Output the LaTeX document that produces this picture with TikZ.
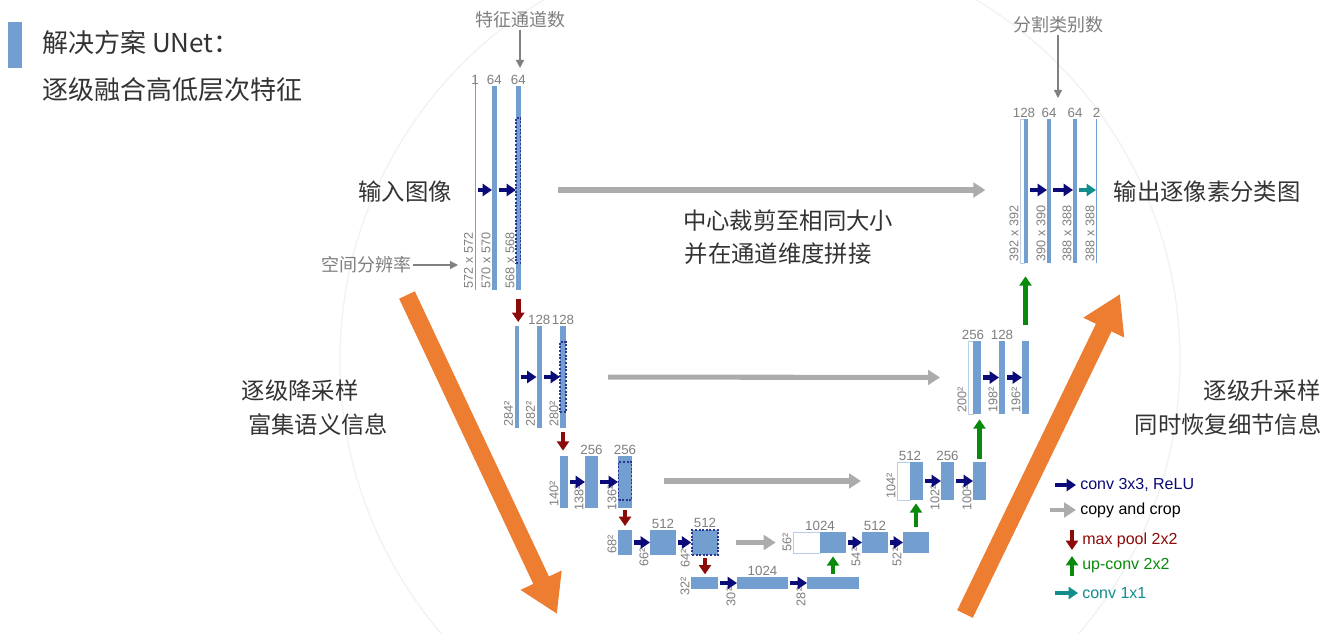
\documentclass[tikz,border=0pt]{standalone}
\usepackage{fontspec}
\setmainfont{Liberation Sans}
\newfontfamily\cjk{Noto Sans CJK SC}
\usetikzlibrary{arrows.meta}
\definecolor{blk}{HTML}{739FD0}
\definecolor{nav}{HTML}{0A0A78}
\definecolor{dred}{HTML}{8B0A0A}
\definecolor{dgrn}{HTML}{0A8A0A}
\definecolor{teal2}{HTML}{138C8C}
\definecolor{org}{HTML}{ED7D31}
\definecolor{txt}{HTML}{333333}
\definecolor{num}{HTML}{7F7F7F}
\tikzset{
 bl/.style={fill=blk,draw=none,inner sep=0pt,outer sep=0pt},
 wh/.style={fill=white,draw=blk!50,line width=0.6pt,inner sep=0pt,outer sep=0pt},
 dot/.style={draw=nav!70!blk,dashed,dash pattern=on 1.5pt off 1.2pt,line width=1.1pt,fill=blk,inner sep=0pt},
 conv/.style={nav,line width=3.6pt,-{Triangle[length=7pt,width=9pt]},shorten <=1.5pt},
 convt/.style={teal2,line width=3.6pt,-{Triangle[length=7pt,width=9pt]},shorten <=1.5pt},
 pool/.style={dred,line width=3.6pt,-{Triangle[length=7pt,width=9pt]}},
 upc/.style={dgrn,line width=3.6pt,-{Triangle[length=7pt,width=9pt]}},
 copy/.style={gray!65,line width=3.8pt,-{Triangle[length=9pt,width=11pt]}},
 garr/.style={gray,line width=1pt,-{Triangle[length=6pt,width=6pt]}},
 nb/.style={num,font=\fontsize{10}{10}\selectfont,inner sep=1pt,anchor=south},
 dm/.style={num,font=\fontsize{9.5}{10}\selectfont,inner sep=1pt,rotate=90,anchor=south west},
 zh/.style={txt,font=\cjk\fontsize{17.5}{19}\selectfont,inner sep=0pt},
 sm/.style={num,font=\cjk\fontsize{13.5}{14}\selectfont,inner sep=1pt},
 lg/.style={font=\fontsize{12}{13}\selectfont,anchor=west,inner sep=0pt},
 oarr/.style={org,line width=13pt,-{Triangle[length=28pt,width=32pt]}},
}
\newcommand\blk[6]{\node[#6,minimum width={(#4-#2)*0.75pt},minimum height={(#5-#3)*0.75pt}] (#1) at ({(#2+#4)/2},{(#3+#5)/2}) {};}
\begin{document}
\begin{tikzpicture}[x=0.75pt,y=-0.75pt]
\path[use as bounding box,fill=white] (0,0) rectangle (1337,634);
\draw[gray!10,line width=1pt] (760,360) circle (420);
% title
\fill[blk] (8,22) rectangle (22,68);
\node[zh,anchor=west,font=\cjk\fontsize{19.5}{21}\selectfont] (t1) at (42,43) {解决方案 UNet：};
\node[zh,anchor=west,font=\cjk\fontsize{19.5}{21}\selectfont] (t2) at (42,90) {逐级融合高低层次特征};
% level 1
\blk{a1}{474.5}{75}{475.8}{290}{bl}
\blk{a2}{492}{86}{496.5}{290}{bl}
\blk{a3}{516}{86}{520.5}{290}{bl}
\blk{a3d}{516}{118}{520.5}{263}{dot}
\node[nb] at (a1.north|-a2.north) {1};
\node[nb] at (a2.north) {64};
\node[nb] at (a3.north) {64};
\node[dm] at (a1.south west) {572 x 572};
\node[dm] at (a2.south west) {570 x 570};
\node[dm] at (a3.south west) {568 x 568};
\draw[conv] (a1.east|-0,190) -- (a2.west|-0,190);
\draw[conv] (a2.east|-0,190) -- (a3.west|-0,190);
% level 2
\blk{b1}{514.5}{326}{518.5}{428}{bl}
\blk{b2}{536.5}{326}{542}{428}{bl}
\blk{b3}{560}{326}{566}{428}{bl}
\blk{b3d}{560}{342}{566}{412}{dot}
\node[nb] at (b2.north) {128};
\node[nb] at (b3.north) {128};
\node[dm] at (b1.south west) {284²};
\node[dm] at (b2.south west) {282²};
\node[dm] at (b3.south west) {280²};
\draw[conv] (b1.east) -- (b2.west);
\draw[conv] (b2.east) -- (b3.west);
% level 3
\blk{c1}{560}{456}{568}{508}{bl}
\blk{c2}{585}{456}{598}{508}{bl}
\blk{c3}{618}{456}{632}{508}{bl}
\blk{c3d}{618.5}{462}{631.5}{500}{dot}
\node[nb] at (c2.north) {256};
\node[nb] at (c3.north) {256};
\node[dm] at (c1.south west) {140²};
\node[dm,xshift=-3pt] at (c2.south west) {138²};
\node[dm,xshift=-3pt] at (c3.south west) {136²};
\draw[conv] (c1.east) -- (c2.west);
\draw[conv] (c2.east) -- (c3.west);
% level 4
\blk{d1}{618}{530}{632}{555}{bl}
\blk{d2}{650}{530}{676}{555}{bl}
\blk{d3}{692}{530}{718}{555}{dot}
\node[nb] at (d2.north) {512};
\node[nb] at (d3.north) {512};
\node[dm] at (d1.south west) {68²};
\node[dm,xshift=-10pt] at (d2.south west) {66²};
\node[dm,xshift=-10pt] at (d3.south west) {64²};
\draw[conv] (d1.east) -- (d2.west);
\draw[conv] (d2.east) -- (d3.west);
% level 5
\blk{e1}{691}{577}{718}{589}{bl}
\blk{e2}{737}{577}{788}{589}{bl}
\blk{e3}{807}{577}{859}{589}{bl}
\node[nb] at (e2.north) {1024};
\node[dm,xshift=-6pt] at (e1.south west) {32²};
\node[dm,xshift=-14pt] at (e2.south west) {30²};
\node[dm,xshift=-14pt] at (e3.south west) {28²};
\draw[conv] (e1.east) -- (e2.west);
\draw[conv] (e2.east) -- (e3.west);
% up level 4
\blk{f0}{793}{532}{820}{553}{wh}
\blk{f1}{820}{532}{846}{553}{bl}
\blk{f2}{862}{532}{888}{553}{bl}
\blk{f3}{903}{532}{929}{553}{bl}
\node[nb] at (f0.north east) {1024};
\node[nb] at (f2.north) {512};
\node[dm] at (f0.south west) {56²};
\node[dm,xshift=-11pt] at (f2.south west) {54²};
\node[dm,xshift=-11pt] at (f3.south west) {52²};
\draw[conv] (f1.east) -- (f2.west);
\draw[conv] (f2.east) -- (f3.west);
% up level 3
\blk{g0}{897}{462}{910}{500}{wh}
\blk{g1}{910}{462}{923}{500}{bl}
\blk{g2}{941}{462}{954}{500}{bl}
\blk{g3}{973}{462}{986}{500}{bl}
\node[nb] at (g0.north east) {512};
\node[nb] at (g2.north) {256};
\node[dm] at (g0.south west) {104²};
\node[dm,xshift=-9pt] at (g2.south west) {102²};
\node[dm,xshift=-9pt] at (g3.south west) {100²};
\draw[conv] (g1.east) -- (g2.west);
\draw[conv] (g2.east) -- (g3.west);
% up level 2
\blk{h0}{968}{341}{973}{414}{wh}
\blk{h1}{973}{341}{981}{414}{bl}
\blk{h2}{999}{341}{1005}{414}{bl}
\blk{h3}{1022}{341}{1029}{414}{bl}
\node[nb] at (h0.north east) {256};
\node[nb] at (h2.north) {128};
\node[dm] at (h0.south west) {200²};
\node[dm] at (h2.south west) {198²};
\node[dm] at (h3.south west) {196²};
\draw[conv] (h1.east) -- (h2.west);
\draw[conv] (h2.east) -- (h3.west);
% up level 1
\blk{i0}{1020}{119}{1024}{263}{wh}
\blk{i1}{1024}{119}{1028}{263}{bl}
\blk{i2}{1047}{119}{1051}{263}{bl}
\blk{i3}{1073}{119}{1077}{263}{bl}
\blk{i4}{1096}{119}{1097.3}{263}{bl}
\node[nb] at (i0.north east) {128};
\node[nb] at (i2.north) {64};
\node[nb] at (i3.north) {64};
\node[nb] at (i4.north) {2};
\node[dm] at (i0.south west) {392 x 392};
\node[dm] at (i2.south west) {390 x 390};
\node[dm] at (i3.south west) {388 x 388};
\node[dm] at (i4.south west) {388 x 388};
\draw[conv] (i1.east|-0,190) -- (i2.west|-0,190);
\draw[conv] (i2.east|-0,190) -- (i3.west|-0,190);
\draw[convt] (i3.east|-0,190) -- (i4.west|-0,190);
% max pools
\draw[pool,shorten <=7pt,shorten >=3pt] (a3.south) -- (a3.south|-b1.north);
\draw[pool,shorten <=3pt,shorten >=4pt] (b3.south) -- (b3.south|-c1.north);
\draw[pool,shorten <=1.5pt,shorten >=3pt] (c3.south) -- (c3.south|-d1.north);
\draw[pool,shorten <=2pt,shorten >=2pt] (d3.south) -- (d3.south|-e1.north);
% up convs
\draw[upc,shorten <=2.5pt,shorten >=2.5pt] (e3.north) -- (e3.north|-f1.south);
\draw[upc,shorten <=3.5pt,shorten >=2.5pt] (f3.north) -- (f3.north|-g1.south);
\draw[upc,shorten <=2pt,shorten >=4pt] (g3.north) -- (g3.north|-h1.south);
\draw[upc,shorten <=12pt,shorten >=10pt] (h3.north) -- (h3.north|-i1.south);
% copy
\draw[copy,shorten <=28pt,shorten >=26pt] (a3.east|-0,190) -- (i0.west|-0,190);
\draw[copy,shorten <=31pt,shorten >=21pt] (b3d.east) -- (h0.west);
\draw[copy,shorten <=24pt,shorten >=27pt] (c3d.east) -- (g0.west);
\draw[copy,shorten <=13pt,shorten >=13pt] (d3.east) -- (f0.west);
% annotations
\node[sm] (tz) at (520,20) {特征通道数};
\draw[garr] (tz.south) -- (520,68);
\node[sm] (fg) at (1058,25) {分割类别数};
\draw[garr] (fg.south) -- (1058,98);
\node[sm] (kj) at (366,265) {空间分辨率};
\draw[garr] (kj.east) -- (458,265);
\node[zh] (in) at (405,192) {输入图像};
\node[zh] (out) at (1207,192) {输出逐像素分类图};
\node[zh] (m1) at (788,221) {中心裁剪至相同大小};
\node[zh] (m2) at (778,254) {并在通道维度拼接};
\node[zh] (l1) at (300,391) {逐级降采样};
\node[zh] (l2) at (318,425) {富集语义信息};
\node[zh] (r1) at (1262,391) {逐级升采样};
\node[zh] (r2) at (1228,425) {同时恢复细节信息};
% orange arrows
\coordinate (os1) at (407,295); \coordinate (oe1) at (557,614);
\coordinate (os2) at (965,614); \coordinate (oe2) at (1120,294);
\draw[oarr] (os1) -- (oe1);
\draw[oarr] (os2) -- (oe2);
% legend
\coordinate (k1) at (1055,485); \coordinate (k1e) at (1076,485);
\coordinate (k2) at (1050,510); \coordinate (k2e) at (1076,510);
\coordinate (k3) at (1072,530); \coordinate (k3e) at (1072,550);
\coordinate (k4) at (1072,576); \coordinate (k4e) at (1072,556);
\coordinate (k5) at (1055,593); \coordinate (k5e) at (1078,593);
\draw[conv,shorten <=0pt] (k1) -- (k1e);
\draw[copy,line width=3pt] (k2) -- (k2e);
\draw[pool] (k3) -- (k3e);
\draw[upc] (k4) -- (k4e);
\draw[convt,shorten <=0pt] (k5) -- (k5e);
\node[lg,nav] (n1) at (1080,485) {conv 3x3, ReLU};
\node[lg,black] (n2) at (1080,510) {copy and crop};
\node[lg,dred] (n3) at (1082,540) {max pool 2x2};
\node[lg,dgrn] (n4) at (1082,566) {up-conv 2x2};
\node[lg,teal2] (n5) at (1082,593) {conv 1x1};
\end{tikzpicture}
\end{document}
